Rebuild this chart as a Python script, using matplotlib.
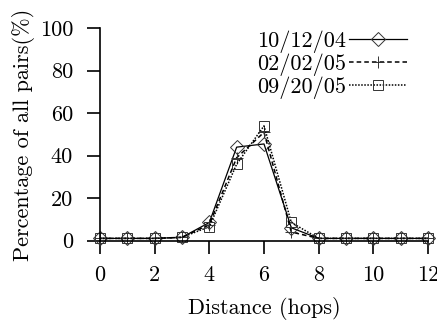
import matplotlib
matplotlib.use("Agg")
import matplotlib.pyplot as plt

plt.rcParams["font.family"] = "cmr10"
plt.rcParams["mathtext.fontset"] = "cm"
plt.rcParams["axes.unicode_minus"] = False

hops = [0, 1, 2, 3, 4, 5, 6, 7, 8, 9, 10, 11, 12]
pairs_041012 = [1, 1, 1, 1.5, 8.5, 44, 45.5, 6, 1, 1, 1, 1, 1]
pairs_050202 = [1, 1, 1, 1.5, 7.5, 39, 51, 4, 1, 1, 1, 1, 1]
pairs_050920 = [1, 1, 1, 1.5, 6.5, 36, 54, 8.5, 1, 1, 1, 1, 1]
labels = ["10/12/04", "02/02/05", "09/20/05"]

fig = plt.figure(figsize=(4.37, 3.2), dpi=100)
ax = fig.add_axes([0.2288, 0.2484, 0.7506, 0.6632])

ax.plot(hops, pairs_041012, color="black", lw=0.9, ls="-", marker="D",
        ms=7, mfc="none", mec="#333333", mew=0.7, label=labels[0])
ax.plot(hops, pairs_050202, color="black", lw=1.1, ls=(0, (3, 2)), marker="+",
        ms=8.5, mec="#333333", mew=0.7, label=labels[1])
ax.plot(hops, pairs_050920, color="black", lw=1.1, ls=(0, (1, 1)), marker="s",
        ms=6.5, mfc="none", mec="#333333", mew=0.7, label=labels[2])

ax.set_xlim(0, 12)
ax.set_ylim(0, 100)
ax.set_xticks(range(0, 13, 2))
ax.set_yticks(range(0, 101, 20))
ax.spines["top"].set_visible(False)
ax.spines["right"].set_visible(False)
ax.spines["left"].set_linewidth(1.2)
ax.spines["bottom"].set_linewidth(1.2)
ax.tick_params(direction="out", length=9.4, width=1.2, labelsize=16)
ax.tick_params(axis="x", pad=8.5)
ax.tick_params(axis="y", pad=10)

ax.set_xlabel("Distance (hops)", fontsize=16, labelpad=9)
ax.set_ylabel("Percentage of all pairs(%)", fontsize=16, labelpad=3)

leg = ax.legend(loc="upper right", bbox_to_anchor=(0.936, 0.99), frameon=False,
                fontsize=16, markerfirst=False, handlelength=2.6,
                labelspacing=0.02, handletextpad=0.15, borderpad=0.0,
                borderaxespad=0.0)

for line in ax.get_lines():
    line.set_clip_on(False)

fig.savefig("out.png", dpi=100)
